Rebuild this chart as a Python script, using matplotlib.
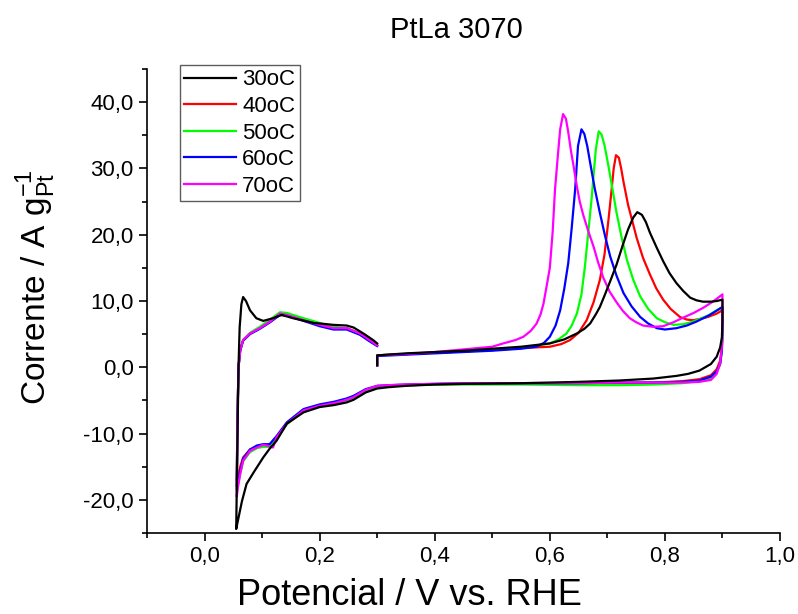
import matplotlib
matplotlib.use("Agg")
import matplotlib.pyplot as plt
from matplotlib.ticker import MultipleLocator, FuncFormatter

plt.rcParams['font.family'] = ['Liberation Sans', 'DejaVu Sans']

labels = ['30oC', '40oC', '50oC', '60oC', '70oC']
colors = ['#000000', '#ff0000', '#00ff00', '#0000ff', '#ff00ff']

# each loop: 0.3 V -> 0.9 V (upper), 0.9 V -> 0.055 V (lower), 0.055 V -> 0.3 V (upper)
v30 = [0.300, 0.300, 0.35, 0.40, 0.45, 0.50, 0.55, 0.60, 0.625, 0.647, 0.66, 0.67, 0.68, 0.687, 0.695, 0.705,
       0.716, 0.727, 0.736, 0.745, 0.752, 0.760, 0.767, 0.774, 0.786, 0.797, 0.808, 0.820, 0.832, 0.844, 0.855,
       0.866, 0.88, 0.89, 0.90,
       0.90, 0.899, 0.896, 0.89, 0.88, 0.86, 0.84, 0.82, 0.78, 0.72, 0.65, 0.55, 0.45, 0.40, 0.35, 0.32, 0.30,
       0.28, 0.259, 0.247, 0.225, 0.20, 0.172, 0.143, 0.125, 0.113, 0.102, 0.085, 0.073, 0.065, 0.059, 0.055,
       0.057, 0.059, 0.061, 0.064, 0.067, 0.072, 0.079, 0.09, 0.102, 0.119, 0.134, 0.154, 0.189, 0.224,
       0.247, 0.259, 0.276, 0.293, 0.30]
i30 = [0.3, 1.8, 2.1, 2.3, 2.5, 2.8, 3.1, 3.6, 4.2, 5.1, 5.8, 6.6, 8.0, 9.1, 10.8, 13.0,
       15.5, 18.5, 20.8, 22.6, 23.4, 23.0, 21.9, 20.3, 18.0, 16.0, 14.2, 12.7, 11.5, 10.5, 10.1,
       9.9, 9.9, 10.0, 10.2,
       7.0, 4.5, 3.0, 1.6, 0.5, -0.5, -1.0, -1.3, -1.7, -2.0, -2.2, -2.4, -2.5, -2.6, -2.8, -3.0, -3.2,
       -3.8, -4.9, -5.3, -5.7, -6.0, -6.8, -8.5, -11.1, -12.3, -13.6, -15.9, -17.6, -20.2, -22.7, -24.4,
       -12.0, 0.0, 6.0, 9.5, 10.6, 10.0, 8.6, 7.4, 7.0, 7.4, 7.9, 7.4, 6.7, 6.4,
       6.3, 6.0, 5.1, 4.1, 3.6]

v40 = [0.30, 0.30, 0.35, 0.40, 0.45, 0.50, 0.55, 0.60, 0.62, 0.635, 0.65, 0.664, 0.676, 0.687, 0.695, 0.702,
       0.707, 0.711, 0.715, 0.72, 0.724, 0.728, 0.736, 0.745, 0.751, 0.762, 0.774, 0.785, 0.797, 0.81, 0.826,
       0.838, 0.849, 0.862, 0.875, 0.89, 0.90,
       0.90, 0.899, 0.896, 0.89, 0.88, 0.86, 0.83, 0.78, 0.72, 0.65, 0.55, 0.45, 0.40, 0.35, 0.32, 0.30,
       0.28, 0.259, 0.247, 0.225, 0.20, 0.172, 0.143, 0.125, 0.113, 0.102, 0.091, 0.079, 0.067, 0.062, 0.058, 0.056,
       0.057, 0.059, 0.062, 0.067, 0.079, 0.096, 0.114, 0.131, 0.143, 0.172, 0.20, 0.224, 0.247, 0.27, 0.287, 0.30]
i40 = [0.3, 1.8, 2.0, 2.2, 2.4, 2.6, 2.9, 3.1, 3.5, 4.1, 5.2, 7.1, 9.8, 13.2, 17.0, 22.3,
       26.5, 30.0, 32.0, 31.6, 30.0, 28.0, 24.5, 21.5, 19.5, 16.5, 14.0, 11.9, 10.2, 8.8, 7.6,
       7.2, 7.1, 7.3, 7.6, 8.1, 8.6,
       6.0, 3.0, 1.0, -0.3, -1.2, -1.8, -2.1, -2.3, -2.4, -2.5, -2.5, -2.5, -2.6, -2.7, -2.8, -3.0,
       -3.5, -4.5, -4.9, -5.4, -5.8, -6.5, -8.5, -10.6, -11.8, -11.8, -12.0, -12.4, -13.6, -15.0, -16.5, -17.0,
       -8.0, 0.0, 2.6, 4.1, 5.1, 5.9, 6.9, 8.1, 7.9, 7.1, 6.4, 5.9, 5.9, 5.1, 4.1, 3.3]

v50 = [0.30, 0.30, 0.35, 0.40, 0.45, 0.50, 0.55, 0.60, 0.615, 0.629, 0.638, 0.647, 0.655, 0.661, 0.667, 0.673,
       0.677, 0.68, 0.685, 0.69, 0.695, 0.702, 0.709, 0.716, 0.725, 0.734, 0.745, 0.757, 0.771, 0.786, 0.80,
       0.815, 0.832, 0.849, 0.875, 0.90,
       0.90, 0.899, 0.896, 0.89, 0.88, 0.86, 0.83, 0.78, 0.72, 0.65, 0.55, 0.45, 0.40, 0.35, 0.32, 0.30,
       0.28, 0.259, 0.247, 0.225, 0.20, 0.172, 0.143, 0.125, 0.113, 0.102, 0.091, 0.079, 0.067, 0.062, 0.058, 0.056,
       0.057, 0.059, 0.062, 0.067, 0.079, 0.096, 0.114, 0.131, 0.143, 0.172, 0.20, 0.224, 0.247, 0.27, 0.287, 0.30]
i50 = [0.3, 1.8, 2.0, 2.2, 2.4, 2.6, 2.9, 3.6, 4.2, 5.1, 6.3, 8.1, 11.0, 15.2, 20.5, 25.8,
       30.0, 32.9, 35.6, 35.1, 33.5, 30.3, 26.8, 23.3, 19.5, 16.2, 13.2, 10.7, 8.8, 7.4, 6.8,
       6.4, 6.5, 6.9, 7.8, 9.1,
       5.5, 2.5, 0.5, -0.7, -1.6, -2.1, -2.4, -2.6, -2.7, -2.7, -2.6, -2.6, -2.6, -2.7, -2.8, -3.0,
       -3.5, -4.6, -5.0, -5.5, -5.9, -6.6, -8.6, -10.8, -12.0, -12.0, -12.2, -12.8, -14.2, -16.0, -17.8, -18.5,
       -9.0, 0.0, 2.6, 4.1, 5.2, 6.1, 7.2, 8.3, 8.2, 7.4, 6.7, 6.1, 5.9, 5.1, 4.1, 3.3]

v60 = [0.30, 0.30, 0.35, 0.40, 0.45, 0.50, 0.55, 0.577, 0.59, 0.60, 0.61, 0.618, 0.625, 0.632, 0.638, 0.644,
       0.649, 0.655, 0.66, 0.665, 0.67, 0.678, 0.687, 0.696, 0.705, 0.716, 0.728, 0.742, 0.757, 0.771, 0.786,
       0.80, 0.82, 0.838, 0.855, 0.878, 0.90,
       0.90, 0.899, 0.896, 0.89, 0.88, 0.86, 0.83, 0.78, 0.72, 0.65, 0.55, 0.45, 0.40, 0.35, 0.32, 0.30,
       0.28, 0.259, 0.247, 0.225, 0.20, 0.172, 0.143, 0.125, 0.113, 0.102, 0.091, 0.079, 0.067, 0.062, 0.058, 0.056,
       0.057, 0.059, 0.062, 0.067, 0.079, 0.096, 0.114, 0.131, 0.143, 0.172, 0.20, 0.224, 0.247, 0.27, 0.287, 0.30]
i60 = [0.3, 1.7, 1.9, 2.1, 2.3, 2.5, 2.8, 3.1, 3.7, 4.6, 6.3, 8.6, 11.8, 15.7, 21.0, 26.8,
       33.4, 35.9, 35.2, 33.4, 30.9, 27.0, 23.3, 19.8, 16.7, 13.8, 11.2, 9.2, 7.6, 6.6, 5.9,
       5.7, 5.9, 6.3, 6.9, 7.9, 9.1,
       5.5, 2.5, 0.5, -0.6, -1.4, -2.0, -2.2, -2.3, -2.3, -2.4, -2.4, -2.4, -2.5, -2.6, -2.7, -2.8,
       -3.3, -4.3, -4.7, -5.2, -5.6, -6.3, -8.3, -10.4, -11.6, -11.6, -11.8, -12.4, -13.8, -15.6, -17.2, -18.0,
       -9.0, 0.0, 2.5, 4.0, 5.0, 5.8, 6.8, 7.9, 7.8, 7.0, 6.2, 5.7, 5.7, 4.9, 3.9, 3.2]

v70 = [0.30, 0.30, 0.35, 0.40, 0.45, 0.50, 0.519, 0.54, 0.554, 0.567, 0.577, 0.584, 0.589, 0.595, 0.60, 0.605,
       0.609, 0.614, 0.618, 0.623, 0.628, 0.632, 0.637, 0.641, 0.647, 0.652, 0.658, 0.667, 0.676, 0.684, 0.693,
       0.704, 0.716, 0.727, 0.739, 0.75, 0.762, 0.78, 0.797, 0.815, 0.832, 0.85, 0.867, 0.885, 0.90,
       0.90, 0.899, 0.896, 0.89, 0.88, 0.86, 0.83, 0.78, 0.72, 0.65, 0.55, 0.45, 0.40, 0.35, 0.32, 0.30,
       0.28, 0.259, 0.247, 0.225, 0.20, 0.172, 0.143, 0.125, 0.119, 0.108, 0.102, 0.091, 0.079, 0.067, 0.062, 0.058, 0.056,
       0.057, 0.059, 0.062, 0.067, 0.079, 0.096, 0.114, 0.131, 0.143, 0.172, 0.20, 0.224, 0.247, 0.27, 0.287, 0.30]
i70 = [0.3, 1.8, 2.0, 2.3, 2.7, 3.1, 3.6, 4.1, 4.6, 5.5, 6.6, 8.0, 9.6, 12.5, 15.0, 20.5,
       26.8, 32.0, 35.9, 38.2, 37.5, 35.5, 32.5, 30.5, 27.3, 25.0, 23.0, 20.5, 18.2, 15.8, 13.5,
       11.4, 9.8, 8.5, 7.4, 6.8, 6.3, 6.1, 6.2, 6.8, 7.5, 8.2, 9.0, 10.0, 11.0,
       6.0, 3.1, 0.6, -1.0, -1.9, -2.2, -2.3, -2.3, -2.3, -2.4, -2.4, -2.4, -2.5, -2.6, -2.7, -2.8,
       -3.4, -4.5, -4.9, -5.4, -5.8, -6.5, -8.5, -10.6, -12.1, -11.8, -11.7, -12.1, -12.6, -14.1, -16.1, -18.1, -19.5,
       -9.0, 0.0, 2.6, 4.1, 5.1, 5.9, 6.9, 8.1, 7.9, 7.1, 6.4, 5.9, 5.9, 5.1, 4.1, 3.3]

volts = [v30, v40, v50, v60, v70]
currents = [i30, i40, i50, i60, i70]

fig = plt.figure(figsize=(7.98, 6.14), dpi=100)
ax = fig.add_axes([147 / 798, 1 - 533 / 614, 633 / 798, 464 / 614])

for k in range(5):
    z = 5 if k == 0 else 2 + k * 0.1
    ax.plot(volts[k], currents[k], color=colors[k], lw=1.6, label=labels[k], zorder=z)

ax.set_xlim(-0.1, 1.0)
ax.set_ylim(-25, 45)
ax.xaxis.set_major_locator(MultipleLocator(0.2))
ax.xaxis.set_minor_locator(MultipleLocator(0.1))
ax.yaxis.set_major_locator(MultipleLocator(10))
ax.yaxis.set_minor_locator(MultipleLocator(5))
fmt = FuncFormatter(lambda v, p: ('%.1f' % v).replace('.', ','))
ax.xaxis.set_major_formatter(fmt)
ax.yaxis.set_major_formatter(fmt)

ax.spines['top'].set_visible(False)
ax.spines['right'].set_visible(False)
ax.spines['left'].set_linewidth(1.2)
ax.spines['bottom'].set_linewidth(1.2)
ax.tick_params(which='major', direction='out', length=6, width=1.2, labelsize=16)
ax.tick_params(which='minor', direction='out', length=3.5, width=1.2)

ax.set_xlabel('Potencial / V vs. RHE', fontsize=26)
ax.set_ylabel('Corrente / A g$_{\\mathregular{Pt}}^{\\mathregular{-1}}$', fontsize=24)
ax.xaxis.set_label_coords(0.415, -0.097)
ax.yaxis.set_label_coords(-0.14, 0.53)
fig.text(456 / 798, 1 - 30 / 614, 'PtLa 3070', ha='center', va='center', fontsize=21)

leg = ax.legend(loc='upper left', bbox_to_anchor=((180 - 147) / 633, (533 - 65) / 464),
                borderaxespad=0, fontsize=16, frameon=True, fancybox=False,
                handlelength=2.3, handletextpad=0.3, labelspacing=0.25, borderpad=0.2)
leg.get_frame().set_edgecolor('#333333')
leg.get_frame().set_linewidth(1.0)

fig.savefig('out.png', dpi=100)
